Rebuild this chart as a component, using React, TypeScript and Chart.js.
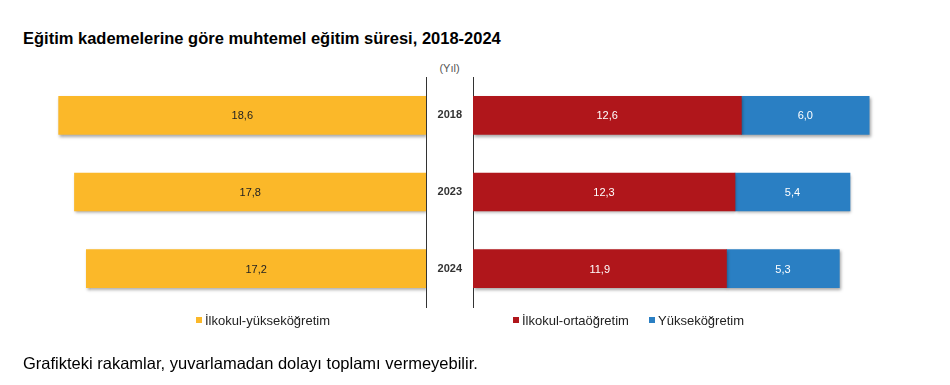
import React, { useEffect, useRef } from "react";
import { Chart, registerables } from "chart.js";

Chart.register(...registerables);

const years = ["2018", "2023", "2024"];
const ilkokulYuksekogretim = [18.6, 17.8, 17.2];
const ilkokulOrtaogretim = [12.6, 12.3, 11.9];
const yuksekogretim = [6.0, 5.4, 5.3];

const seriesNames = ["İlkokul-yükseköğretim", "İlkokul-ortaöğretim", "Yükseköğretim"];
const YELLOW = "#FBB829";
const RED = "#B0161B";
const BLUE = "#2A7FC3";
const FONT = "'Liberation Sans', Arial, sans-serif";

const shadowPlugin = {
  id: "barShadow",
  beforeDatasetDraw(chart: any) {
    const ctx = chart.ctx;
    ctx.save();
    ctx.shadowColor = "rgba(0,0,0,0.35)";
    ctx.shadowBlur = 3;
    ctx.shadowOffsetX = 1;
    ctx.shadowOffsetY = 2;
  },
  afterDatasetDraw(chart: any) {
    chart.ctx.restore();
  },
};

const valueLabelPlugin = {
  id: "valueLabels",
  afterDatasetsDraw(chart: any) {
    const ctx = chart.ctx;
    chart.data.datasets.forEach((ds: any, i: number) => {
      const meta = chart.getDatasetMeta(i);
      meta.data.forEach((el: any, j: number) => {
        const v = ds.data[j];
        const p = el.getProps(["x", "y", "base"], true);
        ctx.save();
        ctx.font = `11px ${FONT}`;
        ctx.fillStyle = ds.labelColor || "#fff";
        ctx.textAlign = "center";
        ctx.textBaseline = "middle";
        ctx.fillText(v.toFixed(1).replace(".", ","), (p.x + p.base) / 2, p.y + 1);
        ctx.restore();
      });
    });
  },
};

export default function App() {
  const leftRef = useRef<HTMLCanvasElement>(null);
  const rightRef = useRef<HTMLCanvasElement>(null);

  useEffect(() => {
    const left = new Chart(leftRef.current as HTMLCanvasElement, {
      type: "bar",
      data: {
        labels: years,
        datasets: [
          {
            label: seriesNames[0],
            data: ilkokulYuksekogretim,
            backgroundColor: YELLOW,
            barThickness: 38,
            labelColor: "#222",
          } as any,
        ],
      },
      options: {
        indexAxis: "y",
        responsive: false,
        animation: false,
        layout: { padding: { left: 31, right: 14, top: 77, bottom: 78 } },
        plugins: { legend: { display: false }, tooltip: { enabled: false } },
        scales: {
          x: { display: false, reverse: true, min: 0, max: 20 },
          y: {
            position: "right",
            grid: { display: false, drawTicks: false },
            border: { display: true, color: "#333", width: 1 },
            ticks: { display: false },
            afterFit: (s: any) => {
              s.width = 0;
            },
          },
        },
      },
      plugins: [shadowPlugin, valueLabelPlugin],
    });

    const right = new Chart(rightRef.current as HTMLCanvasElement, {
      type: "bar",
      data: {
        labels: years,
        datasets: [
          {
            label: seriesNames[1],
            data: ilkokulOrtaogretim,
            backgroundColor: RED,
            barThickness: 38,
            labelColor: "#fff",
          } as any,
          {
            label: seriesNames[2],
            data: yuksekogretim,
            backgroundColor: BLUE,
            barThickness: 38,
            labelColor: "#fff",
          } as any,
        ],
      },
      options: {
        indexAxis: "y",
        responsive: false,
        animation: false,
        layout: { padding: { left: 0, right: 51, top: 77, bottom: 78 } },
        plugins: { legend: { display: false }, tooltip: { enabled: false } },
        scales: {
          x: { display: false, stacked: true, min: 0, max: 20 },
          y: {
            stacked: true,
            position: "left",
            grid: { display: false, drawTicks: false },
            border: { display: true, color: "#333", width: 1 },
            ticks: {
              color: "#333",
              padding: 11,
              font: { family: FONT, size: 11, weight: "bold" },
            },
            afterFit: (s: any) => {
              s.width = 47;
            },
          },
        },
      },
      plugins: [shadowPlugin, valueLabelPlugin],
    });

    return () => {
      left.destroy();
      right.destroy();
    };
  }, []);

  const legendItem = (color: string, text: string, x: number) => (
    <div
      style={{
        position: "absolute",
        left: x,
        top: 312,
        height: 16,
        display: "flex",
        alignItems: "center",
        fontFamily: FONT,
        fontSize: 13,
        color: "#222",
        whiteSpace: "nowrap",
      }}
    >
      <span style={{ display: "inline-block", width: 6, height: 6, background: color, marginRight: 3 }} />
      <span>{text}</span>
    </div>
  );

  return (
    <div
      style={{
        position: "absolute",
        left: 0,
        top: 0,
        width: 950,
        height: 385,
        background: "#fff",
        overflow: "hidden",
        fontFamily: FONT,
      }}
    >
      <div
        style={{
          position: "absolute",
          left: 23,
          top: 28,
          fontSize: 16.5,
          fontWeight: "bold",
          color: "#000",
          lineHeight: "20px",
          whiteSpace: "nowrap",
        }}
      >
        Eğitim kademelerine göre muhtemel eğitim süresi, 2018-2024
      </div>
      <div
        style={{
          position: "absolute",
          left: 426,
          width: 47,
          top: 61,
          textAlign: "center",
          fontSize: 11,
          color: "#555",
          lineHeight: "14px",
        }}
      >
        (Yıl)
      </div>
      <canvas
        ref={leftRef}
        width={440}
        height={385}
        style={{ position: "absolute", left: 0, top: 0, width: 440, height: 385 }}
      />
      <canvas
        ref={rightRef}
        width={524}
        height={385}
        style={{ position: "absolute", left: 426, top: 0, width: 524, height: 385 }}
      />
      {legendItem(YELLOW, seriesNames[0], 196)}
      {legendItem(RED, seriesNames[1], 513)}
      {legendItem(BLUE, seriesNames[2], 649)}
      <div
        style={{
          position: "absolute",
          left: 23,
          top: 353,
          fontSize: 16.5,
          color: "#000",
          lineHeight: "20px",
          whiteSpace: "nowrap",
        }}
      >
        Grafikteki rakamlar, yuvarlamadan dolayı toplamı vermeyebilir.
      </div>
    </div>
  );
}
